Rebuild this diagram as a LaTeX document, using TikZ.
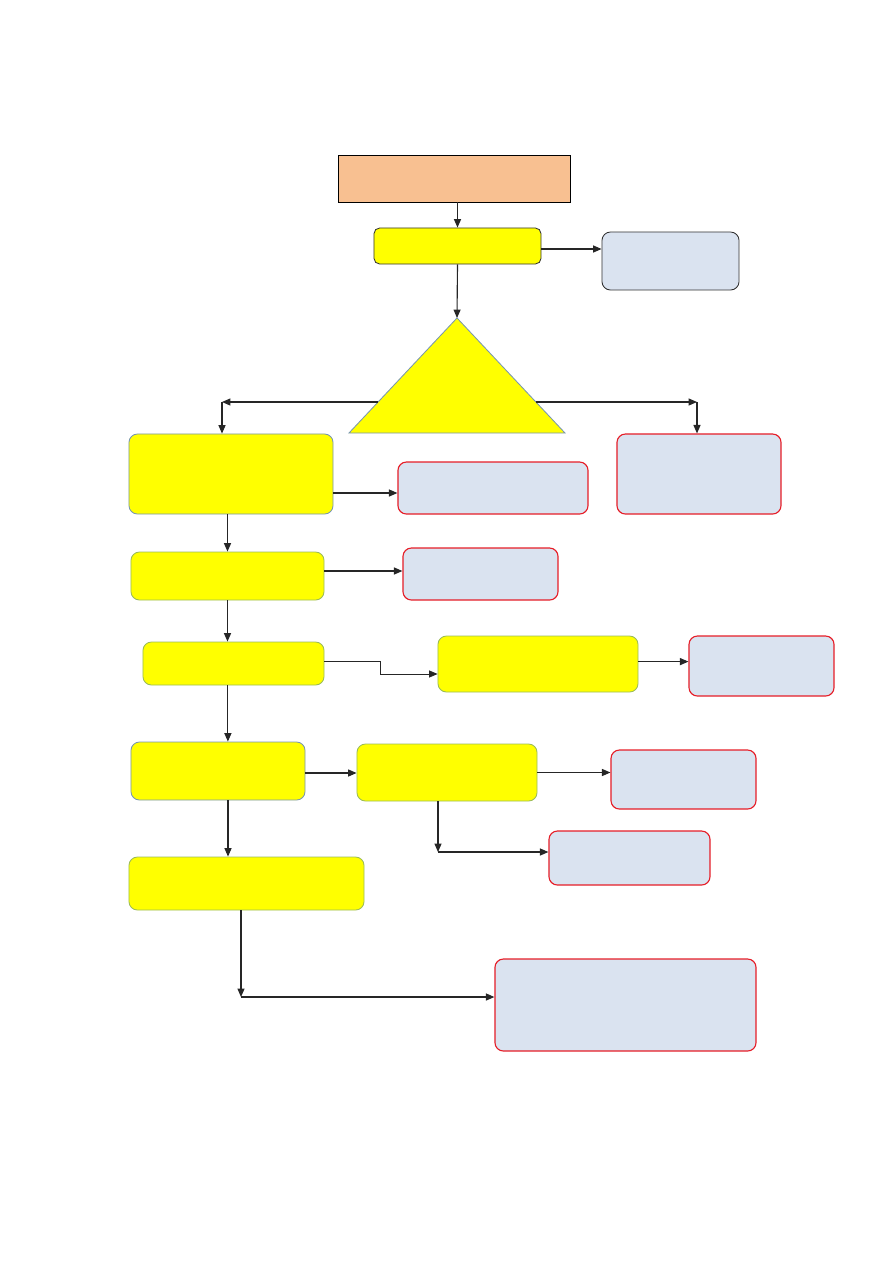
\documentclass[tikz,border=0pt]{standalone}
\usetikzlibrary{arrows.meta, positioning}
\definecolor{peach1}{RGB}{248, 192, 145}
\definecolor{yellow1}{RGB}{255, 255, 0}
\definecolor{slate1}{RGB}{218, 227, 240}
\definecolor{green1}{RGB}{155, 187, 89}
\definecolor{blue1}{RGB}{120, 150, 175}
\definecolor{red1}{RGB}{230, 30, 40}

\begin{document}
\begin{tikzpicture}[x=0.025cm, y=-0.025cm,
  box/.style={draw, inner sep=0pt, line width=0.6pt},
  ybox/.style={box, fill=yellow1, draw=green1, rounded corners=6pt},
  rbox/.style={box, fill=slate1, draw=red1, line width=0.8pt, rounded corners=6pt},
  arr/.style={-{Triangle[length=6pt, width=5pt]}, line width=0.8pt, black!85}
]
  \useasboundingbox (0,0) rectangle (893,1263);

  % --- Top ---
  \node[box, fill=peach1, draw=black, minimum width=5.8cm, minimum height=1.175cm] (start) at (454,178.5) {};
  \node[box, fill=yellow1, draw=black!80, rounded corners=4pt, minimum width=4.175cm, minimum height=0.9cm] (check) at (457.5,246) {};
  \node[box, fill=slate1, draw=black!80, rounded corners=6pt, minimum width=3.425cm, minimum height=1.45cm] (note) at (670.5,261) {};
  \draw[arr] (check.north |- start.south) -- (check.north);
  \draw[arr] ([yshift=-0.075cm]check.east) -- ([yshift=-0.075cm]check.east -| note.west);

  % --- Decision triangle ---
  \draw[fill=yellow1, draw=blue1, line width=0.6pt] (349,433) -- (457,318) -- (565,433) -- cycle;
  \coordinate (tri top) at (457,318);
  \coordinate (tri left) at (378,402);
  \coordinate (tri right) at (536,402);
  \coordinate (kl) at (222,402);
  \coordinate (kr) at (697,402);
  \draw[arr] (check.south) -- (tri top);

  % --- First row ---
  \node[ybox, draw=blue1, minimum width=5.1cm, minimum height=2cm] (b1) at (231,474) {};
  \node[rbox, minimum width=4.75cm, minimum height=1.3cm] (m1) at (493,488) {};
  \node[rbox, minimum width=4.1cm, minimum height=2cm] (r1) at (699,474) {};
  \draw[arr] (tri left) -- (kl);
  \draw[arr] (kl) -- (kl |- b1.north);
  \draw[arr] (tri right) -- (kr);
  \draw[arr] (kr) -- (kr |- r1.north);
  \draw[arr] ([yshift=-0.125cm]b1.east |- m1.west) -- ([yshift=-0.125cm]m1.west);

  % --- Second row ---
  \node[ybox, minimum width=4.825cm, minimum height=1.2cm] (y2) at (227.5,576) {};
  \node[rbox, minimum width=3.875cm, minimum height=1.3cm] (r2) at (480.5,574) {};
  \draw[arr] (y2.north |- b1.south) -- (y2.north);
  \draw[arr] ([yshift=0.075cm]y2.east |- r2.west) -- ([yshift=0.075cm]r2.west);

  % --- Third row ---
  \node[ybox, minimum width=4.525cm, minimum height=1.075cm] (y3) at (233.5,663.5) {};
  \node[ybox, minimum width=5cm, minimum height=1.4cm] (y4) at (538,664) {};
  \node[rbox, minimum width=3.625cm, minimum height=1.5cm] (r4) at (761.5,666) {};
  \draw[arr] (y2.south) -- (y2.south |- y3.north);
  \draw[arr, line width=0.5pt] ([yshift=0.06cm]y3.east) -- ++(56,0) |- ([yshift=-0.25cm]y4.west);
  \draw[arr] ([yshift=0.06cm]y4.east) -- ([yshift=0.06cm]y4.east -| r4.west);

  % --- Fourth row ---
  \node[ybox, draw=blue1, minimum width=4.35cm, minimum height=1.45cm] (y5) at (218,771) {};
  \node[ybox, minimum width=4.5cm, minimum height=1.425cm] (y6) at (447,772.5) {};
  \node[rbox, minimum width=3.625cm, minimum height=1.475cm] (r6) at (683.5,779.5) {};
  \node[rbox, minimum width=4.025cm, minimum height=1.35cm] (r7) at (629.5,858) {};
  \coordinate (k6) at (438,852);
  \draw[arr] ([xshift=-0.14cm]y3.south) -- ([xshift=-0.14cm]y3.south |- y5.north);
  \draw[arr] ([yshift=-0.05cm]y5.east) -- ([yshift=-0.05cm]y5.east -| y6.west);
  \draw[arr] (y6.east) -- (y6.east -| r6.west);
  \draw[arr] (y6.south -| k6) -- (k6);
  \draw[arr] (k6) -- (k6 -| r7.west);

  % --- Bottom ---
  \node[ybox, minimum width=5.875cm, minimum height=1.325cm] (y7) at (246.5,883.5) {};
  \node[rbox, minimum width=6.525cm, minimum height=2.3cm] (r8) at (625.5,1005) {};
  \coordinate (k7) at (241,997);
  \draw[arr] ([xshift=0.25cm]y5.south) -- ([xshift=0.25cm]y5.south |- y7.north);
  \draw[arr] (y7.south -| k7) -- (k7);
  \draw[arr] (k7) -- (k7 -| r8.west);
\end{tikzpicture}
\end{document}
